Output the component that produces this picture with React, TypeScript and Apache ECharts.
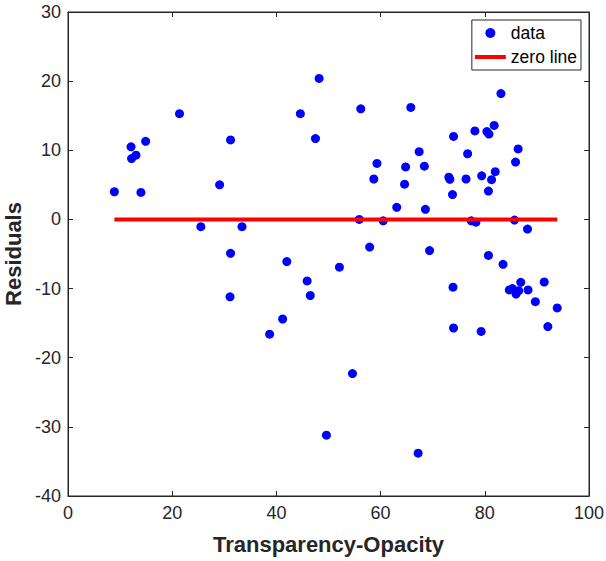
import React, { useEffect, useRef } from "react";
import * as echarts from "echarts";

const xValues = [
  8.9, 12.1, 13.05, 12.2, 14.9, 14.0, 21.4, 31.2, 29.1, 25.5, 33.4, 31.2, 31.1,
  48.2, 44.6, 56.2, 65.8, 47.5, 67.4, 59.3, 64.8, 68.4, 58.7, 64.6, 63.1, 68.6,
  55.9, 60.5, 57.9, 69.4, 42.0, 52.1, 45.9, 46.5, 41.2, 38.7, 54.6, 49.6, 67.2,
  83.1, 74.0, 78.1, 80.4, 80.8, 81.8, 86.4, 76.7, 85.9, 73.1, 73.3, 76.4, 79.4,
  82.0, 81.3, 73.8, 80.7, 77.4, 78.3, 85.7, 88.2, 80.7, 83.5, 73.9, 86.9, 91.4,
  84.7, 85.3, 86.5, 86.0, 88.3, 89.7, 93.9, 74.0, 79.3, 92.1,
];
const residuals = [
  4.0, 10.5, 9.3, 8.8, 11.3, 3.9, 15.3, 11.5, 5.0, -1.05, -1.05, -4.9, -11.2,
  20.4, 15.3, 16.0, 16.2, 11.7, 9.8, 8.1, 7.6, 7.7, 5.85, 5.1, 1.75, 1.46,
  0.0, -0.2, -4.0, -4.5, -6.1, -6.9, -8.9, -11.0, -14.4, -16.6, -22.3, -31.2, -33.8,
  18.2, 12.0, 12.8, 12.7, 12.35, 13.6, 10.2, 9.5, 8.3, 6.1, 5.8, 5.85, 6.3,
  6.9, 5.75, 3.6, 4.1, -0.2, -0.4, -0.1, -1.4, -5.2, -6.5, -9.8, -9.1, -9.05,
  -10.2, -10.0, -10.3, -10.8, -10.2, -11.9, -12.8, -15.7, -16.2, -15.5,
];
const zeroLineX = [8.9, 93.9];
const zeroLineY = [0, 0];

const xTicks = { min: 0, max: 100, interval: 20 };
const yTicks = { min: -40, max: 30, interval: 10 };
const xLabel = "Transparency-Opacity";
const yLabel = "Residuals";
const legendNames = ["data", "zero line"];

const FONT = "'Liberation Sans', Arial, Helvetica, sans-serif";
const AXIS = "#262626";

export default function App() {
  const ref = useRef<HTMLDivElement>(null);
  useEffect(() => {
    if (!ref.current) return;
    const chart = echarts.init(ref.current, undefined, { renderer: "svg" });
    const baseAxisLine = { show: true, onZero: false, lineStyle: { color: AXIS, width: 1 } };
    const tick = { show: true, inside: true, length: 5, lineStyle: { color: AXIS, width: 1 } };
    chart.setOption({
      animation: false,
      backgroundColor: "#ffffff",
      textStyle: { fontFamily: FONT },
      grid: {
        left: 68,
        right: 17,
        top: 12,
        bottom: 65,
        containLabel: false,
        outerBoundsMode: "none",
        show: true,
        borderColor: AXIS,
        borderWidth: 1,
        backgroundColor: "transparent",
      },
      legend: {
        data: [
          { name: legendNames[0], icon: "circle" },
          { name: legendNames[1], icon: "path://M0,0 L31,0 L31,4 L0,4 Z" },
        ],
        orient: "vertical",
        right: 25,
        top: 20,
        padding: [4, 4, 4, 3],
        itemGap: 6,
        itemWidth: 31,
        itemHeight: 10,
        itemTextGap: 1,
        symbolKeepAspect: true,
        backgroundColor: "#ffffff",
        borderColor: AXIS,
        borderWidth: 1,
        borderRadius: 0,
        textStyle: { fontSize: 17.5, color: "#000000", fontFamily: FONT },
      },
      xAxis: [
        {
          type: "value",
          min: xTicks.min,
          max: xTicks.max,
          interval: xTicks.interval,
          position: "bottom",
          name: xLabel,
          nameLocation: "middle",
          nameGap: 37,
          nameTextStyle: { fontSize: 22, fontWeight: "bold", color: AXIS, fontFamily: FONT },
          axisLine: baseAxisLine,
          axisTick: tick,
          splitLine: { show: false },
          axisLabel: { fontSize: 18, color: AXIS, margin: 8, fontFamily: FONT },
        },
        {
          type: "value",
          min: xTicks.min,
          max: xTicks.max,
          interval: xTicks.interval,
          position: "top",
          axisLine: baseAxisLine,
          axisTick: tick,
          splitLine: { show: false },
          axisLabel: { show: false },
        },
      ],
      yAxis: [
        {
          type: "value",
          min: yTicks.min,
          max: yTicks.max,
          interval: yTicks.interval,
          position: "left",
          name: yLabel,
          nameLocation: "middle",
          nameGap: 43,
          nameRotate: 90,
          nameTextStyle: { fontSize: 22, fontWeight: "bold", color: AXIS, fontFamily: FONT },
          axisLine: baseAxisLine,
          axisTick: tick,
          splitLine: { show: false },
          axisLabel: { fontSize: 18, color: AXIS, margin: 7, fontFamily: FONT },
        },
        {
          type: "value",
          min: yTicks.min,
          max: yTicks.max,
          interval: yTicks.interval,
          position: "right",
          axisLine: baseAxisLine,
          axisTick: tick,
          splitLine: { show: false },
          axisLabel: { show: false },
        },
      ],
      series: [
        {
          name: legendNames[0],
          type: "scatter",
          symbol: "circle",
          symbolSize: 9,
          itemStyle: { color: "#0000ff", opacity: 1 },
          data: xValues.map((x, i) => [x, residuals[i]]),
          z: 3,
        },
        {
          name: legendNames[1],
          type: "line",
          symbol: "none",
          showSymbol: false,
          lineStyle: { color: "#ff0000", width: 4 },
          itemStyle: { color: "#ff0000" },
          data: zeroLineX.map((x, i) => [x, zeroLineY[i]]),
          z: 4,
        },
      ],
    });
    return () => chart.dispose();
  }, []);
  return (
    <div
      ref={ref}
      style={{ position: "fixed", left: 0, top: 0, width: 606, height: 561 }}
    />
  );
}
